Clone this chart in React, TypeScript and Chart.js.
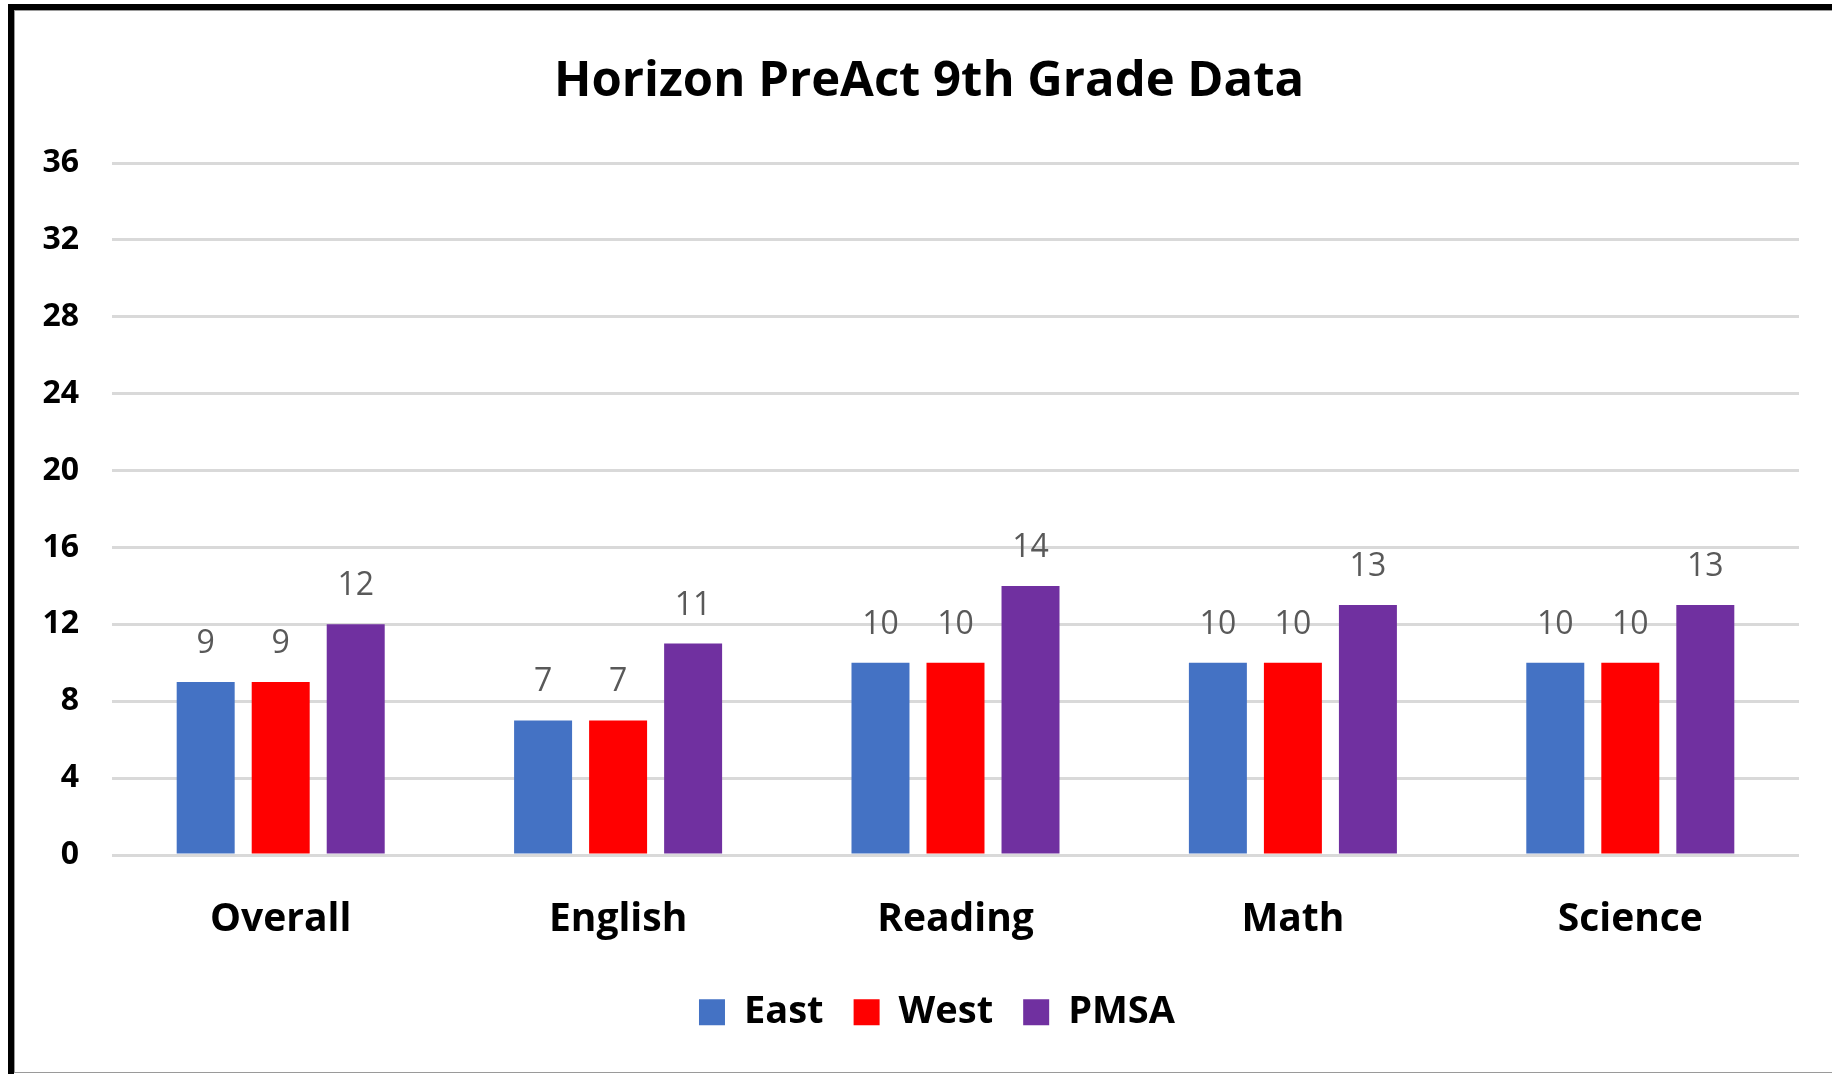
import React, { useEffect, useRef } from 'react';
import { Chart, registerables } from 'chart.js';

Chart.register(...registerables);

const titleText = 'Horizon PreAct 9th Grade Data';
const categories = ['Overall', 'English', 'Reading', 'Math', 'Science'];
const seriesNames = ['East', 'West', 'PMSA'];
const eastValues = [9, 7, 10, 10, 10];
const westValues = [9, 7, 10, 10, 10];
const pmsaValues = [12, 11, 14, 13, 13];
const seriesColors = ['#4472C4', '#FF0000', '#7030A0'];
const yMin = 0;
const yMax = 36;
const yStep = 4;

const FONT = '"Open Sans", Lato, sans-serif';

const valueLabelPlugin = {
  id: 'valueLabels',
  afterDatasetsDraw(chart: any) {
    const ctx = chart.ctx;
    ctx.save();
    ctx.font = `400 32px ${FONT}`;
    ctx.fillStyle = '#595959';
    ctx.textAlign = 'center';
    ctx.textBaseline = 'alphabetic';
    chart.data.datasets.forEach((ds: any, i: number) => {
      const meta = chart.getDatasetMeta(i);
      meta.data.forEach((el: any, j: number) => {
        ctx.fillText(String(ds.data[j]), el.x, el.y - 29);
      });
    });
    ctx.restore();
  },
};

// shift the centring boxes of title and legend to match the original layout
const boxShiftPlugin = {
  id: 'boxShift',
  afterLayout(chart: any) {
    if (chart.titleBlock) chart.titleBlock.left += 45;
    if (chart.legend) chart.legend.left += 61;
  },
};

export default function App() {
  const canvasRef = useRef<HTMLCanvasElement | null>(null);

  useEffect(() => {
    const canvas = canvasRef.current;
    if (!canvas) return;
    const seriesValues = [eastValues, westValues, pmsaValues];
    const chart = new Chart(canvas, {
      type: 'bar',
      data: {
        labels: categories,
        datasets: seriesNames.map((name, i) => ({
          label: name,
          data: seriesValues[i],
          backgroundColor: seriesColors[i],
          borderWidth: 0,
          categoryPercentage: 0.667,
          barPercentage: 0.773,
        })),
      },
      options: {
        responsive: false,
        devicePixelRatio: 1,
        animation: false,
        events: [],
        layout: { padding: { left: 14, right: 33, top: 0, bottom: 32.7 } },
        plugins: {
          tooltip: { enabled: false },
          title: {
            display: true,
            text: titleText,
            color: '#000',
            font: { family: FONT, size: 49, weight: 'bold', lineHeight: 1.2 },
            padding: { top: 53.1, bottom: 51.1 },
          },
          legend: {
            display: true,
            position: 'bottom',
            labels: {
              boxWidth: 26,
              boxHeight: 26,
              padding: 30,
              color: '#000',
              font: { family: FONT, size: 38, weight: 'bold' },
            },
          },
        },
        scales: {
          x: {
            grid: { display: false, drawTicks: false },
            border: { display: false },
            ticks: {
              color: '#000',
              padding: 41.4,
              font: { family: FONT, size: 39, weight: 'bold', lineHeight: 1.2 },
            },
            afterFit: (scale: any) => {
              scale.height = 108.3;
            },
          },
          y: {
            min: yMin,
            max: yMax,
            grid: { color: '#d9d9d9', lineWidth: 3, drawTicks: false },
            border: { display: false },
            ticks: {
              stepSize: yStep,
              color: '#000',
              padding: 33,
              font: { family: FONT, size: 32, weight: 'bold' },
            },
            afterFit: (scale: any) => {
              scale.width = 98;
            },
          },
        },
      },
      plugins: [valueLabelPlugin, boxShiftPlugin],
    } as any);
    return () => chart.destroy();
  }, []);

  return (
    <div style={{ position: 'fixed', left: 0, top: 0, width: 1832, height: 1074, background: '#fff' }}>
      <canvas
        ref={canvasRef}
        width={1832}
        height={1074}
        style={{ position: 'absolute', left: 0, top: 0, width: 1832, height: 1074 }}
      />
      <div
        style={{
          position: 'absolute',
          left: 8,
          top: 4,
          right: 0,
          bottom: 0,
          borderTop: '6px solid #000',
          borderLeft: '6px solid #000',
          pointerEvents: 'none',
        }}
      >
        <div
          style={{
            position: 'absolute',
            left: 0,
            top: 0,
            right: 0,
            bottom: 1,
            borderTop: '1px solid #9a9a9a',
            borderLeft: '1px solid #9a9a9a',
            borderBottom: '1px solid #9a9a9a',
          }}
        />
      </div>
    </div>
  );
}
